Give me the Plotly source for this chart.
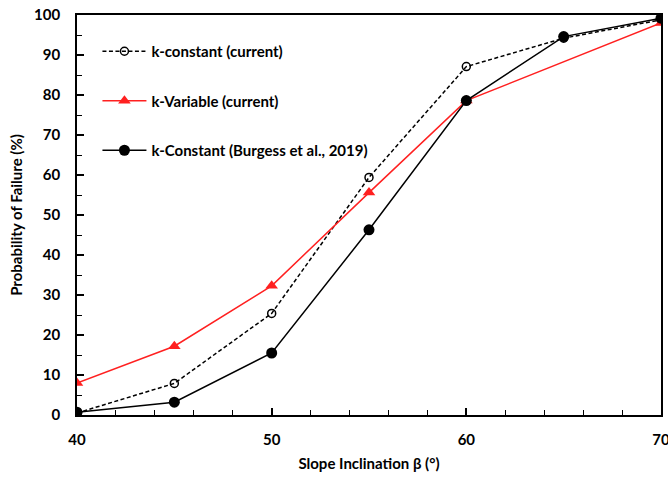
import plotly.graph_objects as go

x_const = [40, 45, 50, 55, 60, 65, 70]
y_const = [0.5, 7.9, 25.4, 59.4, 87.1, 94.2, 98.8]

x_var = [40, 45, 50, 55, 60, 70]
y_var = [8.0, 17.2, 32.3, 55.6, 78.6, 98.0]

x_burg = [40, 45, 50, 55, 60, 65, 70]
y_burg = [0.7, 3.2, 15.5, 46.3, 78.6, 94.6, 99.2]

FONT = "Lato"
RED = "#FF2020"

fig = go.Figure()
fig.add_trace(go.Scatter(
    x=x_const, y=y_const, mode="lines+markers", name="k-constant (current)",
    legendgroup="a",
    line=dict(color="black", width=1.5, dash="4px,2.5px"),
    marker=dict(symbol="circle-open", size=8, color="black", line=dict(width=1.5)),
))
fig.add_trace(go.Scatter(
    x=x_var, y=y_var, mode="lines+markers", name="k-Variable (current)",
    legendgroup="b",
    line=dict(color=RED, width=1.5),
    marker=dict(symbol="triangle-up", size=11, color=RED),
))
fig.add_trace(go.Scatter(
    x=x_burg, y=y_burg, mode="lines+markers", name="k-Constant (Burgess et al., 2019)",
    legendgroup="c",
    line=dict(color="black", width=1.5),
    marker=dict(symbol="circle", size=11, color="black"),
))

axis_common = dict(
    showgrid=False, zeroline=False, showline=True, linecolor="black", linewidth=1.8,
    mirror=True, ticks="inside", ticklen=7, tickwidth=1.5, tickcolor="black",
    tickfont=dict(family=FONT, size=15, color="black", weight="bold"),
    automargin=False, ticklabeloverflow="allow",
)

fig.update_xaxes(
    range=[40, 70], tickvals=[40, 50, 60, 70],
    minor=dict(dtick=2, ticks="inside", ticklen=5, tickwidth=1.3, tickcolor="black"),
    ticklabelstandoff=10,
    title=dict(text="Slope Inclination β (°)", font=dict(family=FONT, size=15, color="black", weight="bold"), standoff=12),
    **axis_common,
)
fig.update_yaxes(
    range=[0, 100], dtick=10,
    minor=dict(dtick=5, ticks="inside", ticklen=5, tickwidth=1.3, tickcolor="black"),
    ticklabelstandoff=12,
    title=dict(text="Probability of Failure (%)", font=dict(family=FONT, size=15, color="black", weight="bold"), standoff=8),
    **axis_common,
)

fig.update_layout(
    width=668, height=478,
    margin=dict(l=77, r=7, t=15, b=63),
    paper_bgcolor="white", plot_bgcolor="white",
    showlegend=True,
    legend=dict(
        x=0.035, y=0.95, xanchor="left", yanchor="top",
        bgcolor="rgba(255,255,255,0)", tracegroupgap=27, itemwidth=44,
        font=dict(family=FONT, size=15, color="black", weight="bold"),
    ),
)

fig.write_html(
    "out.html",
    config={"displayModeBar": False},
    post_script="document.body.style.margin='0';document.body.style.padding='0';",
)
